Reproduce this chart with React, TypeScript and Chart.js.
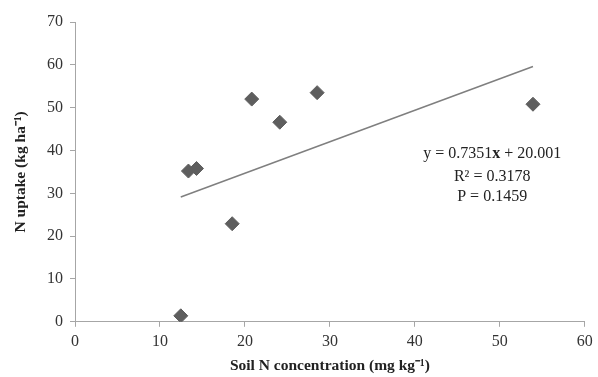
import React, { useEffect, useRef } from "react";
import { Chart, registerables } from "chart.js";

Chart.register(...registerables);

const soilN = [12.45, 13.35, 14.3, 18.5, 20.8, 24.1, 28.5, 53.9];
const nUptake = [1.4, 35.2, 35.8, 22.9, 52.0, 46.6, 53.5, 50.8];
const slope = 0.7351;
const intercept = 20.001;
const trendX = [12.45, 53.9];
const annotationX = 49.1;
const annotationY = [39.3, 33.9, 29.3];

const serif = "'Liberation Serif', 'Times New Roman', serif";

const annotationPlugin = {
  id: "eqText",
  afterDatasetsDraw(chart: any) {
    const { ctx, scales } = chart;
    ctx.save();
    ctx.fillStyle = "#222";
    ctx.textBaseline = "middle";
    const cx = scales.x.getPixelForValue(annotationX);
    const parts: [string, boolean][] = [["y = 0.7351", false], ["x", true], [" + 20.001", false]];
    const fontN = `16px ${serif}`;
    const fontB = `bold 16px ${serif}`;
    let total = 0;
    parts.forEach(([t, b]) => {
      ctx.font = b ? fontB : fontN;
      total += ctx.measureText(t).width;
    });
    let x = cx - total / 2;
    const y1 = scales.y.getPixelForValue(annotationY[0]);
    ctx.textAlign = "left";
    parts.forEach(([t, b]) => {
      ctx.font = b ? fontB : fontN;
      ctx.fillText(t, x, y1);
      x += ctx.measureText(t).width;
    });
    ctx.font = fontN;
    ctx.textAlign = "center";
    ctx.fillText("R\u00b2 = 0.3178", cx, scales.y.getPixelForValue(annotationY[1]));
    ctx.fillText("P = 0.1459", cx, scales.y.getPixelForValue(annotationY[2]));
    ctx.restore();
  },
};

export default function App() {
  const ref = useRef<HTMLCanvasElement>(null);
  useEffect(() => {
    if (!ref.current) return;
    const font = { family: serif, size: 16 };
    const titleFont = { family: serif, size: 15.5, weight: "bold" as const };
    const chart = new Chart(ref.current, {
      type: "scatter",
      data: {
        datasets: [
          {
            label: "data",
            data: soilN.map((x, i) => ({ x, y: nUptake[i] })),
            pointStyle: "rectRot",
            pointRadius: 7,
            pointBackgroundColor: "#5e5e5e",
            pointBorderColor: "#5e5e5e",
            showLine: false,
          },
          {
            label: "trend",
            data: trendX.map((x) => ({ x, y: slope * x + intercept })),
            showLine: true,
            borderColor: "#7f7f7f",
            borderWidth: 1.5,
            pointRadius: 0,
          },
        ],
      },
      options: {
        animation: false,
        responsive: false,
        layout: { padding: { left: 12, right: 1, top: 22, bottom: 2 } },
        plugins: { legend: { display: false }, tooltip: { enabled: false } },
        scales: {
          x: {
            type: "linear",
            min: 0,
            max: 60,
            ticks: { stepSize: 10, color: "#333", font, padding: 5.2 },
            grid: { drawOnChartArea: false, tickLength: 5, color: "#a6a6a6" },
            border: { color: "#a6a6a6" },
            title: {
              display: true,
              text: "Soil N concentration (mg kg\u207b\u00b9)",
              color: "#222",
              font: titleFont,
              padding: { top: 0, bottom: 0 },
            },
          },
          y: {
            type: "linear",
            min: 0,
            max: 70,
            ticks: { stepSize: 10, color: "#333", font, padding: 7 },
            grid: { drawOnChartArea: false, tickLength: 5, color: "#a6a6a6" },
            border: { color: "#a6a6a6" },
            title: {
              display: true,
              text: "N uptake (kg ha\u207b\u00b9)",
              color: "#222",
              font: titleFont,
              padding: { top: 0, bottom: 9.4 },
            },
          },
        },
      },
      plugins: [annotationPlugin],
    });
    return () => chart.destroy();
  }, []);
  return (
    <div style={{ position: "fixed", left: 0, top: 0, width: 598, height: 377, background: "#fff" }}>
      <canvas ref={ref} width={598} height={377} style={{ width: 598, height: 377 }} />
    </div>
  );
}
